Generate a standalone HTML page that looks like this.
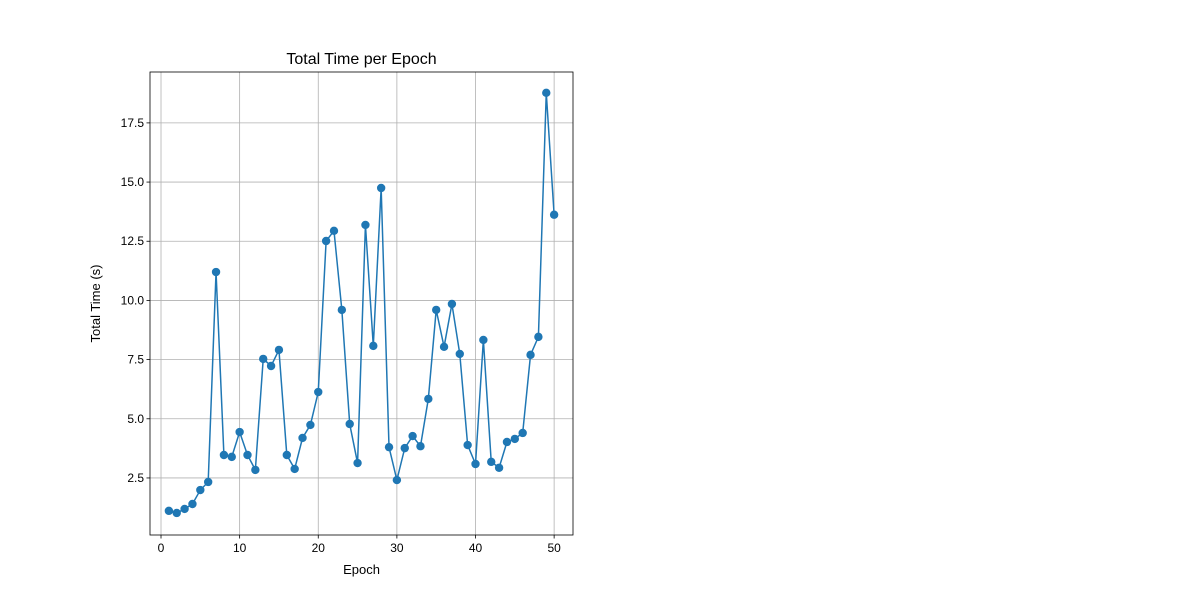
<!DOCTYPE html>
<html><head><meta charset="utf-8"><style>
body{margin:0;background:#fff;font-family:"Liberation Sans","DejaVu Sans",sans-serif}
</style></head><body>
<svg id="chart" width="1200" height="600" xmlns="http://www.w3.org/2000/svg"></svg>
<script>
const epochs=[];for(let i=1;i<=50;i++)epochs.push(i);
const totalTime=[1.11,1.02,1.19,1.40,1.99,2.33,11.2,3.47,3.39,4.44,3.47,2.84,7.53,7.23,7.91,3.47,2.88,4.19,4.74,6.13,12.51,12.94,9.60,4.78,3.13,13.19,8.08,14.75,3.80,2.41,3.76,4.27,3.84,5.84,9.60,8.04,9.85,7.74,3.89,3.09,8.33,3.18,2.93,4.02,4.15,4.40,7.70,8.46,18.77,13.62];
const xTicks=[0,10,20,30,40,50];
const yTicks=[2.5,5.0,7.5,10.0,12.5,15.0,17.5];
const L=150,R=573,T=72,B=535;
const xMin=-1.4,xMax=52.4,yMin=0.09,yMax=19.65;
const sx=v=>L+(v-xMin)/(xMax-xMin)*(R-L);
const sy=v=>B-(v-yMin)/(yMax-yMin)*(B-T);
const svg=document.getElementById('chart');const NS='http://www.w3.org/2000/svg';
function mk(t,a,txt){const e=document.createElementNS(NS,t);for(const k in a)e.setAttribute(k,a[k]);if(txt!=null)e.textContent=txt;svg.appendChild(e);return e;}
xTicks.forEach(v=>{const x=sx(v);
let g=mk('line',{x1:x,x2:x,y1:T,y2:B,stroke:'#b0b0b0','stroke-width':0.8});

mk('line',{x1:x,x2:x,y1:B,y2:B+3.5,stroke:'#000','stroke-width':0.8});
let t=mk('text',{x:x,y:B+17,'font-size':12,'text-anchor':'middle'},String(v));
});
yTicks.forEach(v=>{const y=sy(v);
let g=mk('line',{x1:L,x2:R,y1:y,y2:y,stroke:'#b0b0b0','stroke-width':0.8});

mk('line',{x1:L-3.5,x2:L,y1:y,y2:y,stroke:'#000','stroke-width':0.8});
let t=mk('text',{x:L-6,y:y+4,'font-size':12,'text-anchor':'end'},v.toFixed(1));
});
const pts=epochs.map((e,i)=>sx(e)+','+sy(totalTime[i])).join(' ');
let pl=mk('polyline',{points:pts,fill:'none',stroke:'#1f77b4','stroke-width':1.5});

epochs.forEach((e,i)=>{let c=mk('circle',{cx:sx(e),cy:sy(totalTime[i]),r:4.2,fill:'#1f77b4'});
});
let fr=mk('rect',{x:L,y:T,width:R-L,height:B-T,fill:'none',stroke:'#000','stroke-width':0.8});

let ti=mk('text',{x:(L+R)/2,y:64,'font-size':16,'text-anchor':'middle'},'Total Time per Epoch');

let xl=mk('text',{x:(L+R)/2,y:574,'font-size':13,'text-anchor':'middle'},'Epoch');

let yl=mk('text',{x:0,y:0,'font-size':13,'text-anchor':'middle',transform:'translate(100,'+((T+B)/2)+') rotate(-90)'},'Total Time (s)');

</script>
</body></html>
